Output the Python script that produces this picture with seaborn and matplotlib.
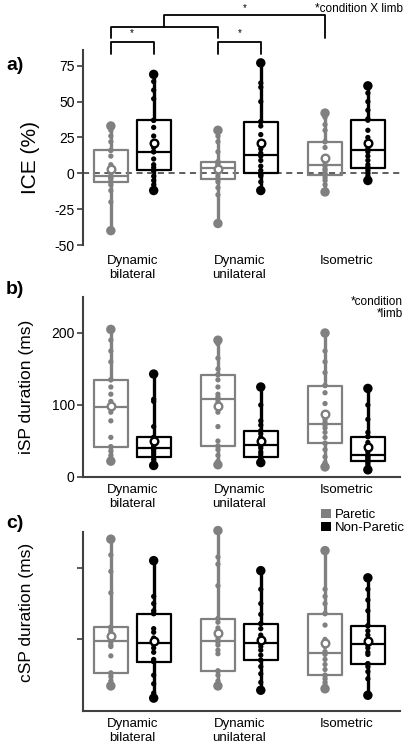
import numpy as np
import pandas as pd
import matplotlib
matplotlib.use("Agg")
import matplotlib.pyplot as plt
import seaborn as sns

# categories
conditions = ["Dynamic\nbilateral", "Dynamic\nunilateral", "Isometric"]
limbs = ["Paretic", "Non-Paretic"]
limb_colors = {"Paretic": "#808080", "Non-Paretic": "#000000"}

# a) ICE (%) per subject
ice_db_p = [-40, -20, -12, -8, -6, -6, -4, -3, -2, -2, -2, 2, 6, 12, 16, 16, 22, 26, 30, 33]
ice_db_np = [-12, -8, -5, -2, 2, 2, 4, 6, 10, 15, 15, 18, 26, 32, 37, 37, 52, 58, 64, 69]
ice_du_p = [-35, -15, -10, -6, -4, -4, -2, 0, 2, 3, 4, 5, 6, 7, 8, 8, 15, 22, 26, 30]
ice_du_np = [-12, -6, -2, -1, 0, 0, 2, 5, 9, 12, 14, 17, 27, 33, 36, 36, 50, 60, 63, 77]
ice_iso_p = [-13, -8, -5, -3, -1, -1, 0, 2, 3, 5, 6, 8, 10, 18, 22, 22, 30, 34, 39, 42]
ice_iso_np = [-5, -2, 0, 2, 4, 4, 6, 9, 12, 15, 17, 20, 25, 30, 37, 38, 44, 50, 56, 61]

# b) iSP duration (ms)
isp_db_p = [22, 26, 30, 36, 42, 42, 55, 78, 90, 95, 99, 105, 115, 125, 135, 135, 160, 175, 190, 205]
isp_db_np = [16, 18, 20, 24, 28, 28, 32, 35, 38, 40, 40, 42, 45, 50, 55, 55, 70, 105, 108, 143]
isp_du_p = [17, 22, 30, 38, 43, 43, 50, 70, 90, 105, 111, 115, 125, 135, 142, 142, 150, 165, 185, 190]
isp_du_np = [20, 22, 24, 26, 28, 28, 32, 35, 40, 43, 45, 48, 55, 60, 64, 64, 72, 78, 100, 125]
isp_iso_p = [14, 20, 28, 38, 47, 47, 55, 62, 68, 72, 76, 80, 102, 117, 127, 127, 145, 160, 175, 200]
isp_iso_np = [10, 13, 16, 19, 22, 22, 24, 26, 28, 29, 31, 35, 40, 48, 56, 56, 62, 80, 100, 123]

# c) cSP duration (ms)
csp_db_p = [35, 38, 42, 48, 53, 53, 77, 90, 92, 96, 100, 104, 108, 112, 117, 117, 165, 195, 218, 240]
csp_db_np = [18, 25, 38, 50, 69, 69, 72, 82, 88, 93, 97, 102, 110, 115, 136, 136, 140, 150, 160, 210]
csp_du_p = [35, 38, 42, 50, 56, 56, 80, 85, 92, 96, 100, 105, 116, 124, 129, 129, 175, 205, 215, 252]
csp_du_np = [29, 40, 52, 62, 71, 71, 78, 85, 90, 94, 96, 100, 106, 115, 122, 122, 135, 150, 170, 196]
csp_iso_p = [31, 36, 40, 45, 50, 50, 58, 65, 72, 79, 83, 90, 100, 120, 136, 136, 150, 160, 170, 224]
csp_iso_np = [22, 45, 55, 62, 66, 66, 79, 82, 88, 92, 96, 100, 106, 112, 119, 119, 140, 155, 170, 186]


def build_df(groups):
    """stack the six groups of one measure into a long dataframe"""
    rows = []
    for cond, limb, vals in groups:
        for v in vals:
            rows.append({"condition": cond, "limb": limb, "value": v})
    return pd.DataFrame(rows)


df_ice = build_df([(conditions[0], limbs[0], ice_db_p), (conditions[0], limbs[1], ice_db_np),
                   (conditions[1], limbs[0], ice_du_p), (conditions[1], limbs[1], ice_du_np),
                   (conditions[2], limbs[0], ice_iso_p), (conditions[2], limbs[1], ice_iso_np)])
df_isp = build_df([(conditions[0], limbs[0], isp_db_p), (conditions[0], limbs[1], isp_db_np),
                   (conditions[1], limbs[0], isp_du_p), (conditions[1], limbs[1], isp_du_np),
                   (conditions[2], limbs[0], isp_iso_p), (conditions[2], limbs[1], isp_iso_np)])
df_csp = build_df([(conditions[0], limbs[0], csp_db_p), (conditions[0], limbs[1], csp_db_np),
                   (conditions[1], limbs[0], csp_du_p), (conditions[1], limbs[1], csp_du_np),
                   (conditions[2], limbs[0], csp_iso_p), (conditions[2], limbs[1], csp_iso_np)])

sns.set_theme(style="ticks")
plt.rcParams["font.family"] = ["Liberation Sans", "DejaVu Sans"]
plt.rcParams["axes.unicode_minus"] = False
plt.rcParams["text.color"] = "black"
plt.rcParams["axes.labelcolor"] = "black"
plt.rcParams["xtick.color"] = "black"
plt.rcParams["ytick.color"] = "black"

spine_col = "#404040"


def draw_panel(ax, df):
    common = dict(data=df, x="condition", y="value", hue="limb", order=conditions,
                  hue_order=limbs, palette=limb_colors, legend=False, ax=ax)

    # boxes with whiskers reaching min / max
    sns.boxplot(fill=False, whis=(0, 100), showfliers=False, showcaps=False,
                width=0.8, gap=0.2, linewidth=1.6,
                whiskerprops={"linewidth": 2.4}, **common)

    # single subjects on the whisker line
    sns.stripplot(jitter=False, dodge=True, size=3.8, linewidth=0, zorder=3, **common)

    # larger dots at the extremes
    ext = df.groupby(["condition", "limb"])["value"].agg(["min", "max"]).reset_index()
    ext = ext.melt(id_vars=["condition", "limb"], value_name="value")
    sns.stripplot(data=ext, x="condition", y="value", hue="limb", order=conditions,
                  hue_order=limbs, palette=limb_colors, legend=False, ax=ax,
                  jitter=False, dodge=True, size=6.8, linewidth=0, zorder=4, clip_on=False)

    # group means as open circles
    sns.pointplot(estimator="mean", errorbar=None, dodge=0.4, linestyle="none",
                  markers="o", markersize=5.5, markerfacecolor="white",
                  markeredgewidth=1.7, zorder=6, **common)

    ax.set_xlim(-0.46, 2.5)
    ax.set_xlabel("")
    for side in ["top", "right"]:
        ax.spines[side].set_visible(False)
    for side in ["left", "bottom"]:
        ax.spines[side].set_color(spine_col)
        ax.spines[side].set_linewidth(1.5)
    ax.tick_params(axis="x", length=0, labelsize=9.5)
    ax.tick_params(axis="y", length=4, width=1.2, color=spine_col, labelsize=10, pad=2)
    ax.yaxis.set_label_coords(-0.155, 0.5)


fig = plt.figure(figsize=(4.08, 7.44), dpi=100)
ax_a = fig.add_axes([83 / 408, 1 - 245 / 744, 317 / 408, 195 / 744])
ax_b = fig.add_axes([83 / 408, 1 - 477 / 744, 317 / 408, 180 / 744])
ax_c = fig.add_axes([83 / 408, 1 - 711 / 744, 317 / 408, 179 / 744])

# a) ICE
draw_panel(ax_a, df_ice)
ax_a.axhline(0, color="#333333", ls=(0, (4, 3)), lw=1.1, zorder=1)
ax_a.set_ylim(-50, 86)
ax_a.set_yticks([-50, -25, 0, 25, 50, 75])
ax_a.spines["bottom"].set_visible(False)
ax_a.tick_params(axis="x", pad=7)
ax_a.set_ylabel("ICE (%)", fontsize=15)
ax_a.yaxis.set_label_coords(-0.135, 0.45)

# significance brackets
off = 0.2
br = dict(color="black", lw=1.3, clip_on=False)
for c in [0, 1]:
    ax_a.plot([c - off, c - off, c + off, c + off], [83, 91.6, 91.6, 83], **br)
    ax_a.text(c, 94, "*", ha="center", va="bottom", fontsize=7)
ax_a.plot([-off, -off, 1 - off, 1 - off], [94.4, 102, 102, 94.4], **br)
mid = (1 - 2 * off) / 2
ax_a.plot([mid, mid, 2 - off, 2 - off], [102, 110.4, 110.4, 94.4], **br)
ax_a.text((mid + 2 - off) / 2, 112, "*", ha="center", va="bottom", fontsize=7)

# b) iSP
draw_panel(ax_b, df_isp)
ax_b.set_ylim(0, 250)
ax_b.set_yticks([0, 100, 200])
ax_b.tick_params(axis="x", pad=5)
ax_b.set_ylabel("iSP duration (ms)", fontsize=12.5)

# c) cSP
draw_panel(ax_c, df_csp)
ax_c.set_ylim(0, 250)
ax_c.set_yticks([100, 200])
ax_c.set_yticklabels(["", ""])
ax_c.tick_params(axis="x", pad=5)
ax_c.set_ylabel("cSP duration (ms)", fontsize=12.5)
ax_c.yaxis.set_label_coords(-0.155, 0.55)

handles = [matplotlib.patches.Patch(facecolor=limb_colors[l], edgecolor="none", label=l) for l in limbs]
ax_c.legend(handles=handles, loc="upper right", bbox_to_anchor=(1.015, 1.13), frameon=False,
            fontsize=9.5, handlelength=0.75, handleheight=0.75, handletextpad=0.3,
            labelspacing=0.05, borderpad=0, borderaxespad=0)

# stats notes and panel letters
fig.text(403 / 408, 1 - 9 / 744, "*condition X limb", ha="right", va="center", fontsize=8.5)
fig.text(403 / 408, 1 - 296 / 744, "*condition\n*limb", ha="right", va="top", fontsize=8.5,
         linespacing=1.05)
for letter, ypix in [("a)", 66), ("b)", 289), ("c)", 523)]:
    fig.text(6 / 408, 1 - ypix / 744, letter, ha="left", va="center", fontsize=14, fontweight="bold")

fig.savefig("out.png", dpi=100)
